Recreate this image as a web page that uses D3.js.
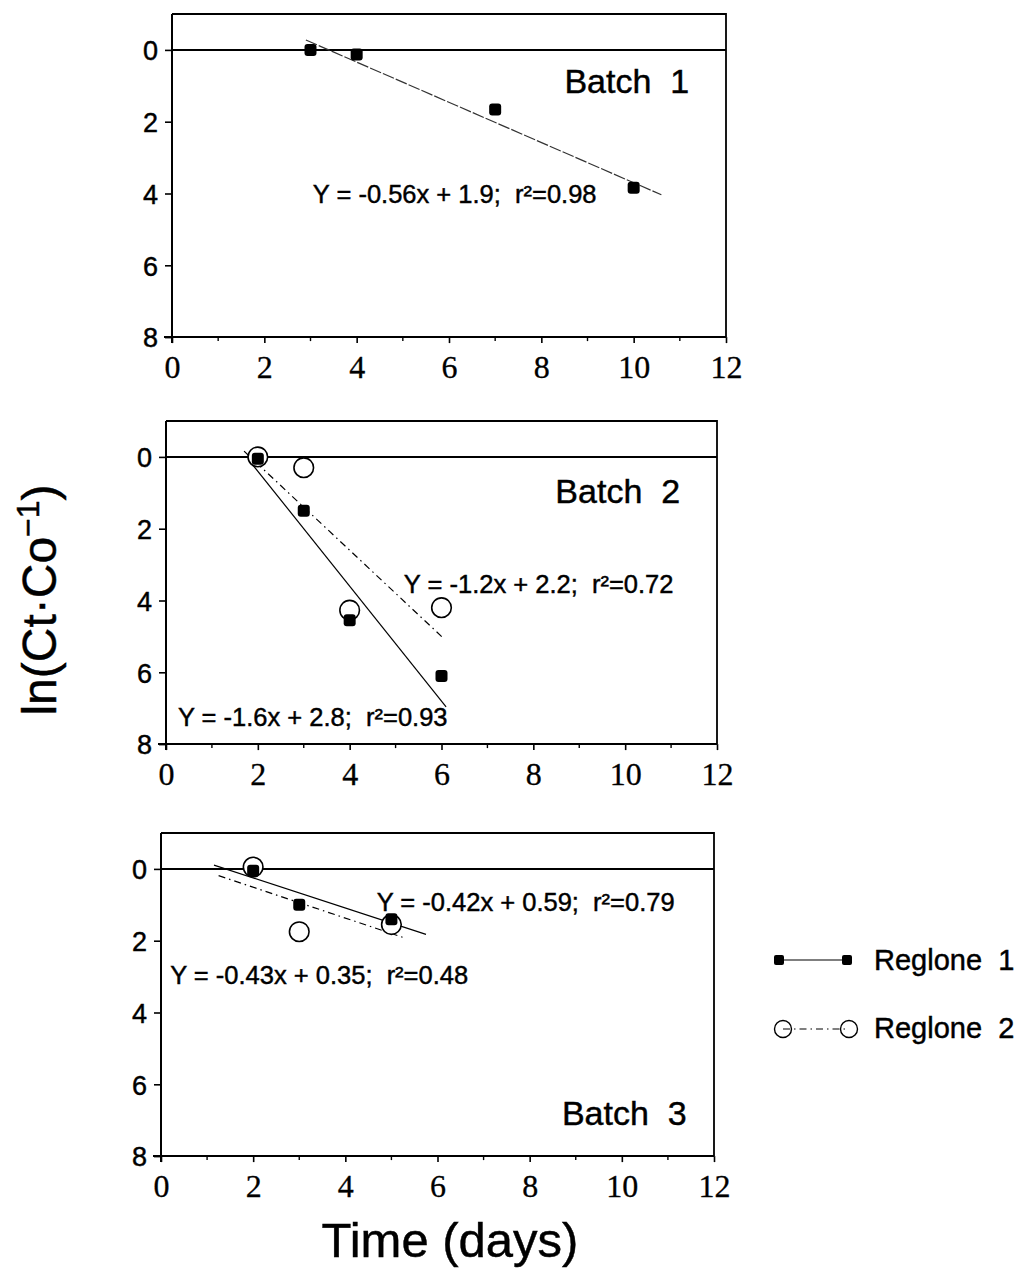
<!DOCTYPE html>
<html>
<head>
<meta charset="utf-8">
<script src="https://cdn.jsdelivr.net/npm/d3@7"></script>
<style>
  html, body { margin: 0; padding: 0; background: #fff; }
  svg { display: block; }
  text { white-space: pre; }
</style>
</head>
<body>
<svg id="chart" width="1025" height="1268"></svg>
<script>
// Axis ticks shared by the three panels
const xTicks = [0, 2, 4, 6, 8, 10, 12];
const xMinorTicks = [1, 3, 5, 7, 9, 11];
const yTicks = [0, 2, 4, 6, 8];

const batchNames = ["Batch  1", "Batch  2", "Batch  3"];
const seriesNames = ["Reglone  1", "Reglone  2"];

// Sampling days and -ln(Ct/Co) values for each batch
const days1 = [3, 4, 7, 10];
const batch1Reglone1 = [0.0, 0.13, 1.66, 3.84];

const days2 = [2, 3, 4, 6];
const batch2Reglone1 = [0.05, 1.5, 4.55, 6.1];
const batch2Reglone2 = [0.0, 0.3, 4.27, 4.2];

const days3 = [2, 3, 5];
const batch3Reglone1 = [0.05, 1.0, 1.4];
const batch3Reglone2 = [-0.05, 1.75, 1.55];

// Linear fits: slope, intercept, r², and the day range each line covers
const fitSlopes     = [[-0.56], [-1.6, -1.2], [-0.42, -0.43]];
const fitIntercepts = [[1.9],   [2.8, 2.2],   [0.59, 0.35]];
const fitR2         = [[0.98],  [0.93, 0.72], [0.79, 0.48]];
const fitSpans      = [[[2.9, 10.6]], [[1.9, 6.1], [1.7, 6.05]], [[1.15, 5.75], [1.25, 5.3]]];

const svg = d3.select("#chart");

// Panel frames (left edge, top edge at y = -1)
const panelLayout = [
  { left: 172, top: 14,  width: 554 },
  { left: 166, top: 421, width: 551 },
  { left: 161, top: 833, width: 553 }
];
const unitH = 35.9;
const panelH = unitH * 9;

const sansFont = "'Liberation Sans', Arial, sans-serif";
const serifFont = "'Liberation Serif', 'Times New Roman', serif";
const inkStroke = 0.45;   // slight stroke to thicken the sans-serif lettering

const lineStyles = [
  { dash: null, width: 1.2 },              // Reglone 1: solid
  { dash: "7,4,1.5,4", width: 1.2 }        // Reglone 2: dash-dot
];

// Equation label anchors in data units [day, value] per panel / series
const eqAnchors = [
  [[3.05, 4.27]],
  [[0.26, 7.5], [5.18, 3.78]],
  [[4.68, 1.17], [0.2, 3.2]]
];
const batchAnchors = [[8.5, 1.2], [8.48, 1.28], [8.7, 7.13]];

const panelData = [
  { days: days1, series: [batch1Reglone1] },
  { days: days2, series: [batch2Reglone1, batch2Reglone2] },
  { days: days3, series: [batch3Reglone1, batch3Reglone2] }
];

function equationText(slope, intercept, r2) {
  return `Y = ${slope}x + ${intercept};  r\u00B2=${r2}`;
}

function sansText(sel, size) {
  return sel.attr("font-family", sansFont).attr("font-size", size)
    .attr("fill", "#000").attr("stroke", "#000").attr("stroke-width", inkStroke);
}

function drawMarker(g, seriesIndex, cx, cy) {
  if (seriesIndex === 0) {
    g.append("rect")
      .attr("x", cx - 6).attr("y", cy - 6)
      .attr("width", 12).attr("height", 12)
      .attr("rx", 3)
      .attr("fill", "#000");
  } else {
    g.append("circle")
      .attr("cx", cx).attr("cy", cy).attr("r", 9.8)
      .attr("fill", "#fff")
      .attr("stroke", "#000")
      .attr("stroke-width", 1.6);
  }
}

panelData.forEach((pd, pi) => {
  const L = panelLayout[pi];
  const x = d3.scaleLinear().domain([0, 12]).range([L.left, L.left + L.width]);
  const y = d3.scaleLinear().domain([-1, 8]).range([L.top, L.top + panelH]);
  const g = svg.append("g");

  // Frame: top and right edges
  g.append("path")
    .attr("d", `M${x(0)},${y(-1)}H${x(12)}V${y(8)}`)
    .attr("fill", "none").attr("stroke", "#000").attr("stroke-width", 1.8);

  // Zero reference line
  g.append("line")
    .attr("x1", x(0)).attr("x2", x(12))
    .attr("y1", y(0)).attr("y2", y(0))
    .attr("stroke", "#000").attr("stroke-width", 2);

  // Left axis
  const yAxis = d3.axisLeft(y).tickValues(yTicks).tickSize(7).tickPadding(7).tickFormat(d3.format("d"));
  const ya = g.append("g").attr("transform", `translate(${x(0)},0)`).call(yAxis);
  ya.select(".domain").attr("d", `M-0,${y(-1)}V${y(8) + 6}`).attr("stroke-width", 2);
  ya.selectAll(".tick line").attr("stroke-width", 1.6);
  sansText(ya.selectAll(".tick text"), 27).attr("dy", "0.36em");

  // Bottom axis with minor ticks
  const xAxis = d3.axisBottom(x).tickValues(xTicks).tickSize(6).tickPadding(12).tickFormat(d3.format("d"));
  const xa = g.append("g").attr("transform", `translate(0,${y(8)})`).call(xAxis);
  xa.select(".domain").attr("d", `M${x(0) - 8},0H${x(12)}`).attr("stroke-width", 2);
  xa.selectAll(".tick line").attr("stroke-width", 1.6);
  xa.selectAll(".tick text")
    .attr("font-family", serifFont).attr("font-size", 32).attr("fill", "#000")
    .attr("stroke", "#000").attr("stroke-width", 0.3);
  g.append("g").selectAll("line").data(xMinorTicks).join("line")
    .attr("x1", d => x(d)).attr("x2", d => x(d))
    .attr("y1", y(8)).attr("y2", y(8) + 4)
    .attr("stroke", "#000").attr("stroke-width", 1.4);

  // Fitted lines (value plotted as -Y)
  pd.series.forEach((vals, si) => {
    const slope = fitSlopes[pi][si], icpt = fitIntercepts[pi][si];
    const span = fitSpans[pi][si];
    const st = lineStyles[si];
    g.append("line")
      .attr("x1", x(span[0])).attr("y1", y(-(slope * span[0] + icpt)))
      .attr("x2", x(span[1])).attr("y2", y(-(slope * span[1] + icpt)))
      .attr("stroke", pi === 0 ? "#333" : "#000")
      .attr("stroke-width", st.width)
      .attr("stroke-dasharray", pi === 0 ? "12,2" : st.dash);
  });

  // Data markers: open circles first, filled squares on top
  [...pd.series.keys()].reverse().forEach(si => {
    pd.series[si].forEach((v, i) => drawMarker(g, si, x(pd.days[i]), y(v)));
  });

  // Equation labels
  pd.series.forEach((vals, si) => {
    const a = eqAnchors[pi][si];
    sansText(g.append("text"), 25.5)
      .attr("x", x(a[0])).attr("y", y(a[1]))
      .text(equationText(fitSlopes[pi][si], fitIntercepts[pi][si], fitR2[pi][si]));
  });

  // Batch label
  sansText(g.append("text"), 34)
    .attr("x", x(batchAnchors[pi][0])).attr("y", y(batchAnchors[pi][1]))
    .text(batchNames[pi]);
});

// Legend
const legend = svg.append("g");
const legendRows = [
  { y: 960, x1: 779, x2: 847, textY: 970 },
  { y: 1029, x1: 783, x2: 849, textY: 1038 }
];
legendRows.forEach((r, si) => {
  const st = lineStyles[si];
  legend.append("line")
    .attr("x1", r.x1).attr("x2", r.x2).attr("y1", r.y).attr("y2", r.y)
    .attr("stroke", "#000").attr("stroke-width", st.width)
    .attr("stroke-dasharray", st.dash);
  if (si === 0) {
    [r.x1, r.x2].forEach(cx => legend.append("rect")
      .attr("x", cx - 5).attr("y", r.y - 5).attr("width", 10).attr("height", 10)
      .attr("rx", 2).attr("fill", "#000"));
  } else {
    [r.x1, r.x2].forEach(cx => legend.append("circle")
      .attr("cx", cx).attr("cy", r.y).attr("r", 8.5)
      .attr("fill", "none").attr("stroke", "#000").attr("stroke-width", 1.4));
  }
  sansText(legend.append("text"), 29)
    .attr("x", 874).attr("y", r.textY)
    .text(seriesNames[si]);
});

// Axis titles
sansText(svg.append("text"), 49)
  .attr("x", 450).attr("y", 1257)
  .attr("text-anchor", "middle")
  .text("Time (days)");

const yTitle = sansText(svg.append("text"), 48)
  .attr("transform", "translate(56,600) rotate(-90)")
  .attr("text-anchor", "middle");
yTitle.append("tspan").text("ln(Ct\u00B7Co");
yTitle.append("tspan").attr("font-size", 32).attr("dy", -17).text("\u2212");
yTitle.append("tspan").attr("font-size", 32).text("1");
yTitle.append("tspan").attr("dy", 17).text(")");
</script>
</body>
</html>
